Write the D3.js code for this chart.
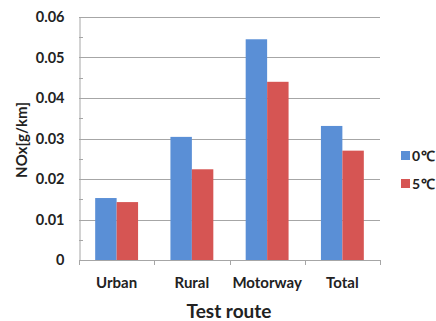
<!DOCTYPE html>
<html><head><meta charset="utf-8">
<script src="https://cdn.jsdelivr.net/npm/d3@7"></script>
<style>body{margin:0;background:#fff}svg{display:block}text{font-family:Lato,"Open Sans",sans-serif;font-weight:bold;fill:#222}</style>
</head><body><svg id="c" width="436" height="321"></svg>
<script>
const categories = ["Urban","Rural","Motorway","Total"];
const seriesNames = ["0 ℃","5 ℃"];
const s0 = [0.0153,0.0304,0.0545,0.0331];
const s5 = [0.0143,0.0224,0.0440,0.0270];
const yTicks = [0,0.01,0.02,0.03,0.04,0.05,0.06];
const yTickLabels = ["0","0.01","0.02","0.03","0.04","0.05","0.06"];
const minorTicks = [0.005,0.015,0.025,0.035,0.045,0.055];
const colors = ["#5A8FD6","#D65553"];

const svg = d3.select("#c");
const L=79,R=380,T=17,B=260;
const x = d3.scaleBand().domain(categories).range([L,R]).paddingInner(0.43).paddingOuter(0.215);
const y = d3.scaleLinear().domain([0,0.06]).range([B,T]);
const xs = d3.scaleBand().domain([0,1]).range([0,x.bandwidth()]);

svg.append("g").selectAll("line").data(yTicks.slice(1)).join("line")
  .attr("x1",L).attr("x2",R).attr("y1",d=>Math.round(y(d))+0.5).attr("y2",d=>Math.round(y(d))+0.5)
  .attr("stroke","#a6a6a6").attr("stroke-width",1);
svg.append("g").selectAll("line").data(minorTicks).join("line")
  .attr("x1",L).attr("x2",L+4).attr("y1",d=>Math.round(y(d))+0.5).attr("y2",d=>Math.round(y(d))+0.5)
  .attr("stroke","#a6a6a6");

const data = [s0,s5];
data.forEach((s,i)=>{
  svg.append("g").selectAll("rect").data(s).join("rect")
    .attr("x",(d,j)=>x(categories[j])+xs(i)).attr("width",xs.bandwidth())
    .attr("y",d=>y(d)).attr("height",d=>B-y(d)).attr("fill",colors[i]);
});

const yAxis = d3.axisLeft(y).tickValues(yTicks).tickFormat((d,i)=>yTickLabels[i]).tickSize(0).tickPadding(15);
const gy = svg.append("g").attr("transform",`translate(${L+0.5},0)`).call(yAxis);
gy.select(".domain").attr("stroke","#a6a6a6");
gy.selectAll("text").style("font-size","14.5px").style("font-family","Lato,sans-serif").style("font-weight","bold").attr("fill","#222");

const boundaries = [L, ...categories.slice(1).map(c=>x(c)-x.step()*x.paddingInner()/2), R];
svg.append("line").attr("x1",L).attr("x2",R).attr("y1",B+0.5).attr("y2",B+0.5).attr("stroke","#a6a6a6");
svg.append("g").selectAll("line").data(boundaries).join("line")
  .attr("x1",d=>Math.round(d)+0.5).attr("x2",d=>Math.round(d)+0.5).attr("y1",B).attr("y2",B+5).attr("stroke","#a6a6a6");

svg.append("g").selectAll("text").data(categories).join("text")
  .attr("x",d=>x(d)+x.bandwidth()/2).attr("y",288).attr("text-anchor","middle")
  .style("font-size","15px").text(d=>d);

svg.append("text").attr("x",229).attr("y",318).attr("text-anchor","middle").style("font-size","19px").text("Test route");
svg.append("text").attr("transform","translate(27,140) rotate(-90)").attr("text-anchor","middle").style("font-size","15px").text("NOx[g/km]");

const lg = svg.append("g").selectAll("g").data(seriesNames).join("g")
  .attr("transform",(d,i)=>`translate(401,${151+i*28})`);
lg.append("rect").attr("width",9).attr("height",9).attr("fill",(d,i)=>colors[i]);
lg.append("text").attr("x",11).attr("y",9.5).style("font-size","14px").style("letter-spacing","-1.5px").text(d=>d);
</script></body></html>
